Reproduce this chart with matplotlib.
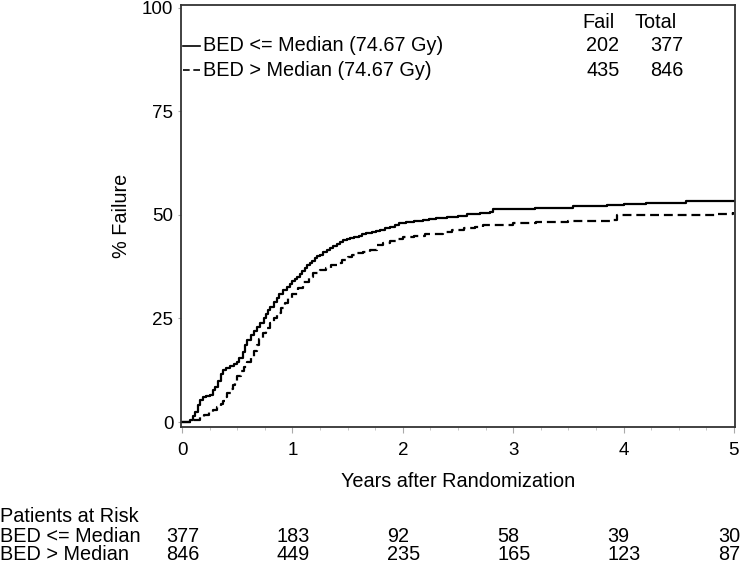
import matplotlib.pyplot as plt
from matplotlib.ticker import MultipleLocator

plt.rcParams["font.family"] = ["Liberation Sans", "DejaVu Sans"]

# Cumulative failure curves (years, % failure)
t_low = [0, 0.07, 0.1, 0.12, 0.14, 0.16, 0.19, 0.22, 0.25, 0.28, 0.3, 0.33, 0.35, 0.37,
         0.4, 0.43, 0.47, 0.5, 0.52, 0.55, 0.57, 0.59, 0.62, 0.65, 0.68, 0.71, 0.74,
         0.76, 0.78, 0.8, 0.83, 0.86, 0.88, 0.91, 0.95, 0.98, 1.0, 1.02, 1.04, 1.07,
         1.09, 1.11, 1.13, 1.16, 1.18, 1.2, 1.22, 1.25, 1.28, 1.31, 1.34, 1.37, 1.4,
         1.43, 1.46, 1.49, 1.52, 1.56, 1.6, 1.63, 1.67, 1.72, 1.76, 1.79, 1.84, 1.88,
         1.93, 1.97, 2.03, 2.1, 2.18, 2.24, 2.3, 2.4, 2.5, 2.58, 2.7, 2.79, 2.82, 3.0,
         3.2, 3.54, 3.85, 4.0, 4.2, 4.42, 4.57, 5.0]
y_low = [0, 0.5, 1.5, 2.5, 4.0, 5.3, 6.0, 6.3, 6.5, 7.7, 8.5, 10.0, 11.5, 12.5,
         13.0, 13.5, 14.0, 14.5, 15.5, 17.0, 18.5, 19.8, 21.0, 22.0, 23.0, 24.0, 25.0,
         26.0, 27.0, 27.8, 29.0, 30.0, 31.0, 31.8, 32.6, 33.4, 34.0, 34.5, 35.0, 35.8,
         36.5, 37.2, 38.0, 38.5, 39.0, 39.5, 40.0, 40.3, 41.0, 41.5, 42.0, 42.5, 43.0,
         43.5, 44.0, 44.2, 44.4, 44.7, 45.0, 45.3, 45.6, 46.0, 46.2, 46.4, 46.8, 47.2,
         47.6, 48.0, 48.2, 48.5, 48.8, 49.0, 49.2, 49.5, 49.8, 50.2, 50.5, 50.7, 51.4, 51.5,
         51.6, 52.2, 52.4, 52.7, 52.8, 53.0, 53.4, 53.4]

t_high = [0, 0.1, 0.16, 0.2, 0.24, 0.28, 0.32, 0.35, 0.37, 0.39, 0.41, 0.44, 0.46, 0.48,
          0.5, 0.53, 0.56, 0.59, 0.62, 0.65, 0.68, 0.7, 0.73, 0.76, 0.8, 0.83, 0.86,
          0.9, 0.93, 0.96, 1.0, 1.05, 1.1, 1.15, 1.19, 1.25, 1.3, 1.35, 1.4, 1.45, 1.5,
          1.54, 1.58, 1.64, 1.7, 1.77, 1.82, 1.88, 1.94, 2.0, 2.1, 2.2, 2.36, 2.45, 2.55,
          2.65, 2.73, 3.0, 3.21, 3.5, 3.88, 3.94, 4.4, 4.85, 4.99]
y_high = [0, 0.4, 1.2, 1.7, 2.3, 2.9, 3.6, 4.3, 5.0, 6.0, 7.0, 8.0, 9.0, 10.0,
          11.0, 12.2, 13.3, 14.5, 15.7, 17.2, 18.6, 20.0, 21.5, 22.8, 24.0, 25.2, 26.3,
          27.6, 28.8, 30.0, 31.0, 32.4, 33.7, 35.0, 36.0, 36.7, 37.3, 37.9, 38.4, 39.1, 39.8,
          40.3, 40.8, 41.1, 41.5, 42.8, 43.2, 43.8, 44.2, 44.7, 45.0, 45.3, 45.9, 46.3, 46.8,
          47.2, 47.6, 48.0, 48.3, 48.5, 48.8, 50.0, 50.1, 50.2, 50.7]

groups = ["BED <= Median (74.67 Gy)", "BED > Median (74.67 Gy)"]
fail = [202, 435]
total = [377, 846]

risk_years = [0, 1, 2, 3, 4, 5]
risk_low = [377, 183, 92, 58, 39, 30]
risk_high = [846, 449, 235, 165, 123, 87]
risk_labels = ["BED <= Median", "BED > Median"]

dash = (0, (4, 2.2))
fs = 14.3

fig = plt.figure(figsize=(7.5, 5.66), dpi=100)
ax = fig.add_axes([0.2413, 0.2456, 0.7387, 0.7456])

ax.plot(t_low, y_low, drawstyle="steps-post", color="black", lw=1.6)
ax.plot(t_high, y_high, drawstyle="steps-post", color="black", lw=1.6, linestyle=dash)

ax.set_xlim(-0.01, 5.01)
ax.set_ylim(-1.2, 100.7)
ax.set_xticks(risk_years)
ax.xaxis.set_minor_locator(MultipleLocator(0.25))
ax.set_yticks([0, 25, 50, 75, 100])
ax.tick_params(labelsize=13.5, length=4, width=0.8, colors="#aaaaaa", labelcolor="black")
ax.tick_params(axis="x", which="major", pad=7)
ax.tick_params(axis="x", which="minor", length=2.5, width=0.6, colors="#bbbbbb")
ax.tick_params(axis="y", length=2)
for s in ax.spines.values():
    s.set_color("#333333")
    s.set_linewidth(1.3)
ax.set_xlabel("Years after Randomization", fontsize=fs, labelpad=9)
ax.set_ylabel("% Failure", fontsize=fs, labelpad=8)

# legend block with fail / total counts
ax.text(3.77, 96.5, "Fail", fontsize=fs, ha="center", va="center")
ax.text(4.29, 96.5, "Total", fontsize=fs, ha="center", va="center")
rows_y = [90.8, 85.0]
styles = ["-", dash]
for i in range(2):
    ax.plot([0.01, 0.16], [rows_y[i], rows_y[i]], color="black", lw=1.2, linestyle=styles[i])
    ax.text(0.19, rows_y[i], groups[i], fontsize=fs, va="center")
    ax.text(3.66, rows_y[i], str(fail[i]), fontsize=fs, va="center")
    ax.text(4.24, rows_y[i], str(total[i]), fontsize=fs, va="center")

# patients at risk table
fig.text(0.0, (566 - 517) / 566, "Patients at Risk", fontsize=fs, va="center")
for label, counts, ypx in [(risk_labels[0], risk_low, 537), (risk_labels[1], risk_high, 555)]:
    yf = (566 - ypx) / 566
    fig.text(0.0, yf, label, fontsize=fs, va="center")
    for yr, n in zip(risk_years, counts):
        xpx = 182 + 110.4 * yr - 16
        fig.text(xpx / 750, yf, str(n), fontsize=fs, va="center")

fig.savefig("out.png", dpi=100)
